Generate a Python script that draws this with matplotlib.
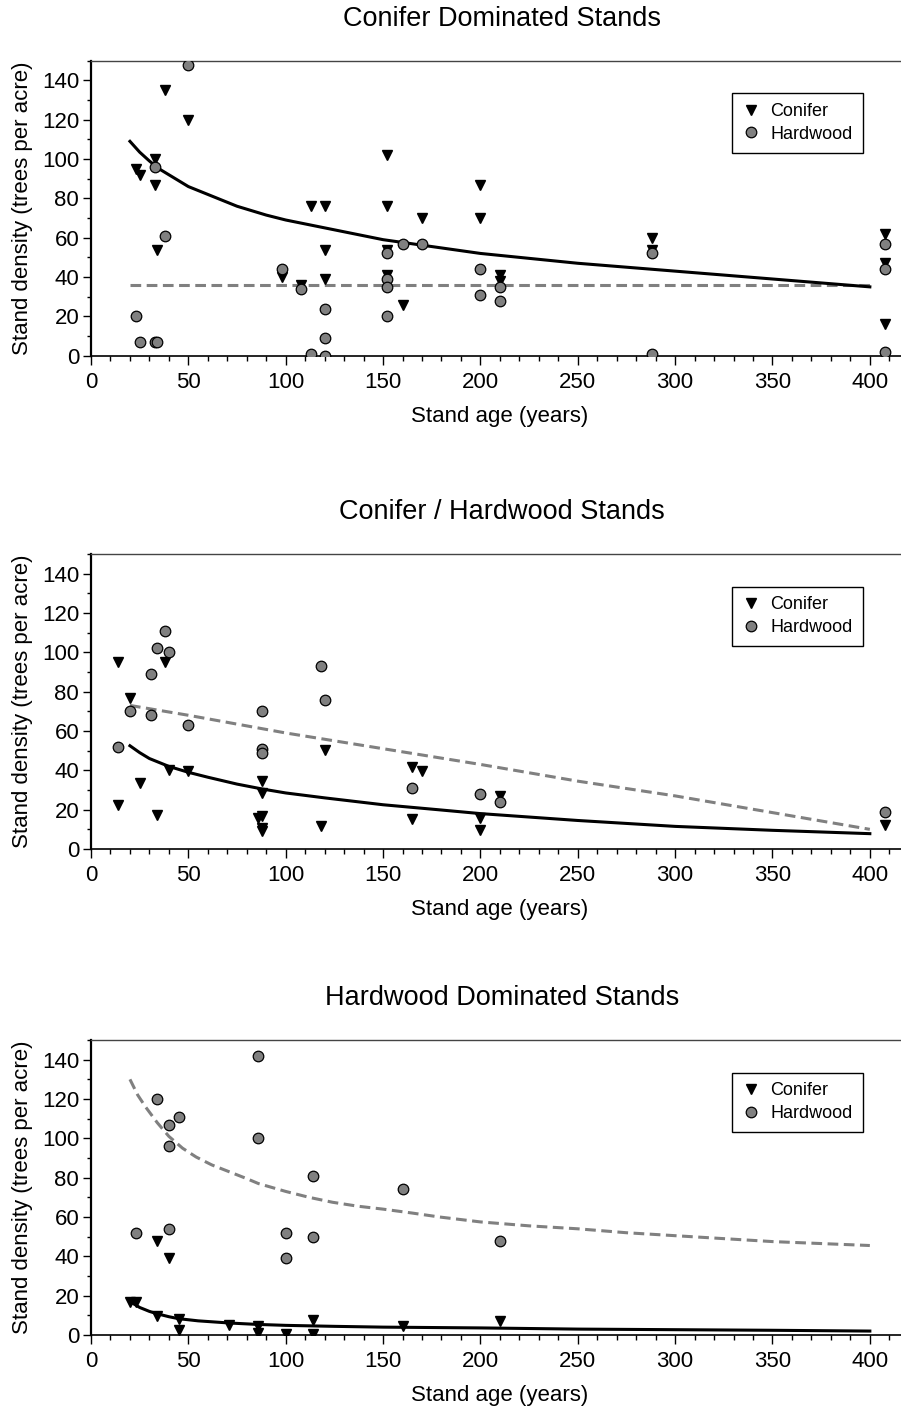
import matplotlib
matplotlib.use("Agg")
import matplotlib.pyplot as plt
from matplotlib.ticker import MultipleLocator
from matplotlib.lines import Line2D

plt.rcParams['font.family'] = ['Liberation Sans', 'DejaVu Sans']

# ---- data ----
# panel 1: conifer dominated stands
p1_con_x = [38, 50, 33, 23, 25, 33, 34, 98, 108, 113, 120, 120, 120, 152, 152, 152, 152,
            160, 170, 200, 200, 210, 210, 288, 288, 408, 408, 408]
p1_con_y = [135, 120, 100, 95, 92, 87, 54, 40, 36, 76, 76, 54, 39, 102, 76, 54, 41,
            26, 70, 87, 70, 41, 38, 60, 54, 62, 47, 16]
p1_hw_x = [50, 33, 38, 23, 25, 33, 34, 98, 108, 113, 120, 120, 120, 152, 152, 152, 152,
           160, 170, 200, 200, 210, 210, 288, 288, 408, 408, 408]
p1_hw_y = [148, 96, 61, 20, 7, 7, 7, 44, 34, 1, 24, 9, 0, 52, 39, 35, 20,
           57, 57, 44, 31, 35, 28, 52, 1, 57, 44, 2]
p1_con_fit_x = [20, 25, 30, 35, 40, 45, 50, 60, 75, 90, 100, 125, 150, 175, 200, 250, 300, 350, 400]
p1_con_fit_y = [109, 103.5, 99, 95, 92, 89, 86, 82, 76, 71.5, 69, 64, 59, 55.5, 52, 47, 43, 39, 35]
p1_hw_fit_x = [20, 400]
p1_hw_fit_y = [36, 36]

# panel 2: conifer / hardwood stands
p2_con_x = [14, 20, 14, 25, 34, 38, 40, 50, 88, 88, 86, 88, 88, 88, 120, 118, 165, 170,
            165, 200, 200, 210, 408]
p2_con_y = [95, 77, 22.5, 33.6, 17.5, 95, 40, 39.5, 34.4, 28.5, 15.8, 17, 10.7, 9, 50.5,
            11.5, 41.7, 39.5, 15.3, 15.8, 9.5, 27, 12.4]
p2_hw_x = [38, 34, 40, 31, 20, 31, 50, 14, 88, 88, 88, 118, 120, 165, 200, 210, 408]
p2_hw_y = [111, 102, 100, 89, 70, 68, 63, 52, 70, 51, 49, 93, 76, 31, 28, 24, 19]
p2_con_fit_x = [20, 25, 30, 40, 50, 60, 75, 88, 100, 120, 150, 178, 200, 250, 300, 350, 400]
p2_con_fit_y = [52.5, 49, 46, 42, 39, 36.5, 33, 30.5, 28.5, 26, 22.5, 20, 18, 14.5, 11.5, 9.5, 7.8]
p2_hw_fit_x = [20, 50, 100, 150, 200, 250, 300, 350, 400]
p2_hw_fit_y = [73, 68, 59, 51, 43, 34.5, 27, 18.5, 10]

# panel 3: hardwood dominated stands
p3_con_x = [20, 23, 34, 40, 34, 45, 45, 71, 86, 86, 100, 114, 114, 160, 210]
p3_con_y = [17, 17, 48, 39, 9.5, 8, 2.4, 5, 4.4, 1, 0.7, 7.5, 0.7, 4.4, 7]
p3_hw_x = [86, 34, 45, 40, 40, 86, 114, 160, 23, 40, 100, 114, 100, 210]
p3_hw_y = [142, 120, 111, 107, 96, 100, 81, 74, 52, 54, 52, 50, 39, 48]
p3_con_fit_x = [20, 25, 30, 34, 40, 45, 55, 71, 85, 100, 125, 150, 200, 250, 300, 350, 400]
p3_con_fit_y = [17, 14, 12, 10.8, 9.3, 8.3, 7.2, 6.1, 5.4, 4.9, 4.4, 4, 3.6, 3, 2.7, 2.4, 2]
p3_hw_fit_x = [20, 24, 28, 34, 40, 47, 54, 62, 71, 80, 86, 100, 112, 124, 137, 150, 165, 179,
               200, 225, 250, 275, 300, 325, 350, 375, 400]
p3_hw_fit_y = [130, 122, 116, 108, 101, 95, 90.5, 86.5, 83, 79.5, 77, 73, 70, 67.5, 65.5, 64,
               62, 60, 57.5, 55.5, 54, 52, 50.5, 49, 47.5, 46.5, 45.5]

titles = ["Conifer Dominated Stands", "Conifer / Hardwood Stands", "Hardwood Dominated Stands"]
panels = [
    (p1_con_x, p1_con_y, p1_hw_x, p1_hw_y, p1_con_fit_x, p1_con_fit_y, p1_hw_fit_x, p1_hw_fit_y),
    (p2_con_x, p2_con_y, p2_hw_x, p2_hw_y, p2_con_fit_x, p2_con_fit_y, p2_hw_fit_x, p2_hw_fit_y),
    (p3_con_x, p3_con_y, p3_hw_x, p3_hw_y, p3_con_fit_x, p3_con_fit_y, p3_hw_fit_x, p3_hw_fit_y),
]

W, H = 901, 1410
fig = plt.figure(figsize=(W / 100, H / 100), dpi=100)

GRAY = '#808080'
ax_left = 91
ax_tops = [60.7, 554, 1040]   # pixel rows of y=150
ax_h = 295.0

for i, (cx, cy, hx, hy, cfx, cfy, hfx, hfy) in enumerate(panels):
    top = ax_tops[i]
    ax = fig.add_axes([ax_left / W, 1 - (top + ax_h) / H, (W - ax_left) / W, ax_h / H])

    ax.plot(hfx, hfy, color=GRAY, lw=2.2, dashes=(3.5, 1.8), zorder=2)
    ax.plot(cfx, cfy, color='black', lw=2.2, zorder=2, solid_joinstyle='round')
    ax.plot(cx, cy, 'v', ms=7.8, color='black', ls='none', zorder=3)
    ax.plot(hx, hy, 'o', ms=7.6, mfc=GRAY, mec='black', mew=0.9, ls='none', zorder=4)

    ax.set_xlim(0, 416)
    ax.set_ylim(0, 150)
    ax.xaxis.set_major_locator(MultipleLocator(50))
    ax.xaxis.set_minor_locator(MultipleLocator(10))
    ax.yaxis.set_major_locator(MultipleLocator(20))
    ax.yaxis.set_minor_locator(MultipleLocator(10))
    ax.tick_params(axis='x', which='major', length=6.5, width=1, pad=5, labelsize=16)
    ax.tick_params(axis='x', which='minor', length=3.5, width=1)
    ax.tick_params(axis='y', which='major', length=6, width=1, pad=2.5, labelsize=16)
    ax.tick_params(axis='y', which='minor', length=3, width=1)

    ax.spines['right'].set_visible(False)
    ax.spines['top'].set_color('#444444')
    ax.spines['top'].set_linewidth(1.0)
    ax.spines['left'].set_linewidth(1.6)
    ax.spines['bottom'].set_linewidth(1.2)

    handles = [
        Line2D([], [], marker='v', ms=7.8, color='black', ls='none', label='Conifer'),
        Line2D([], [], marker='o', ms=7.6, mfc=GRAY, mec='black', mew=0.9, ls='none', label='Hardwood'),
    ]
    leg = ax.legend(handles=handles, loc='upper right', bbox_to_anchor=(0.9527, 0.8896),
                    fontsize=13, frameon=True, fancybox=False, framealpha=1,
                    edgecolor='black', borderpad=0.55, labelspacing=0.3,
                    handlelength=1.0, handletextpad=0.6, borderaxespad=0)
    leg.get_frame().set_linewidth(1.0)

    fig.text(502 / W, 1 - (top - 42) / H, titles[i], fontsize=19.5, ha='center', va='center')
    fig.text(500 / W, 1 - (top + ax_h + 61) / H, "Stand age (years)", fontsize=16,
             ha='center', va='center')
    fig.text(23 / W, 1 - (top + ax_h / 2) / H, "Stand density (trees per acre)", fontsize=16,
             ha='center', va='center', rotation=90)

fig.savefig('out.png', dpi=100)
